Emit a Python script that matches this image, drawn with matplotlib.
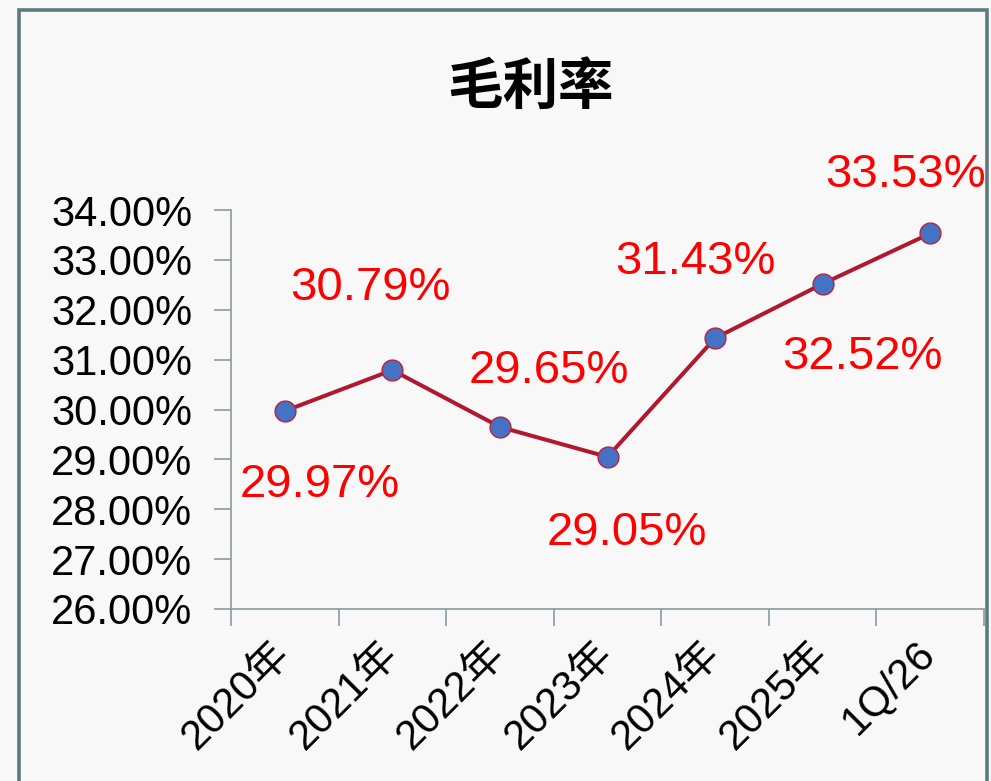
import matplotlib
matplotlib.use('Agg')
import matplotlib.pyplot as plt
from matplotlib.patches import Rectangle
from matplotlib.ticker import FixedLocator, FuncFormatter
from matplotlib.transforms import ScaledTranslation

plt.rcParams['font.family'] = ['Liberation Sans', 'Noto Sans CJK SC', 'DejaVu Sans']

# data
periods = ['2020年', '2021年', '2022年', '2023年', '2024年', '2025年', '1Q/26']
margin = [29.97, 30.79, 29.65, 29.05, 31.43, 32.52, 33.53]
value_labels = ['29.97%', '30.79%', '29.65%', '29.05%', '31.43%', '32.52%', '33.53%']
# label offsets (points) from each marker
label_offsets = [(25, -53), (-16, 59), (35, 40), (14, -55), (-14, 55), (29, -53), (-18, 42)]

W, H = 991, 781
fig = plt.figure(figsize=(W / 100, H / 100), dpi=100)
fig.patch.set_facecolor('#f8f8f8')

# frame around the slide area
fig.patches.append(Rectangle((18.5 / W, -0.1), (987 - 18.5) / W, 1.1 - 9.5 / H,
                             transform=fig.transFigure, fill=False,
                             edgecolor='#5f7a7f', linewidth=2.6))

ax = fig.add_axes([231 / W, (H - 609) / H, (984 - 231) / W, (609 - 210) / H])
ax.set_facecolor('none')

x = list(range(len(periods)))
ax.plot(x, margin, color='#b0182f', linewidth=2.9, marker='o', markersize=15,
        markerfacecolor='#4472c4', markeredgecolor='#c0203a', markeredgewidth=1.0,
        zorder=3, clip_on=False)

for xi, yi, lab, off in zip(x, margin, value_labels, label_offsets):
    ax.annotate(lab, (xi, yi), xytext=off, textcoords='offset points',
                ha='center', va='center', color='#ff0000', fontsize=34)

ax.set_xlim(-0.5, len(periods) - 0.5)
ax.set_ylim(26, 34)
ax.yaxis.set_major_locator(FixedLocator([26 + i for i in range(9)]))
ax.yaxis.set_major_formatter(FuncFormatter(lambda v, p: f'{v:.2f}%'))
ax.tick_params(axis='y', labelsize=30, length=12, width=1.2, color='#8a9aa0',
               pad=16, labelcolor='black')

ax.set_xticks(x)
ax.set_xticklabels(periods, rotation=45, ha='right', rotation_mode='anchor', fontsize=30)
ax.tick_params(axis='x', which='major', length=0, pad=14)
shift = ScaledTranslation(-15 / 100, -5 / 100, fig.dpi_scale_trans)
for t in ax.get_xticklabels():
    t.set_transform(t.get_transform() + shift)
ax.set_xticks([i - 0.5 for i in range(len(periods) + 1)], minor=True)
ax.tick_params(axis='x', which='minor', length=12, width=1.2, color='#8a9aa0')

for s in ['top', 'right']:
    ax.spines[s].set_visible(False)
for s in ['left', 'bottom']:
    ax.spines[s].set_color('#8a9aa0')
    ax.spines[s].set_linewidth(1.2)

fig.text(530 / W, 1 - 88 / H, '毛利率', ha='center', va='center', fontsize=40,
         fontweight='bold', family=['Noto Sans CJK SC', 'DejaVu Sans'])

fig.savefig('out.png', dpi=100, facecolor=fig.get_facecolor())
